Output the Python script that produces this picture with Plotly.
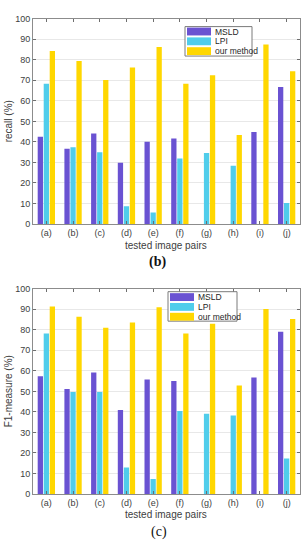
import plotly.graph_objects as go

categories = ["(a)", "(b)", "(c)", "(d)", "(e)", "(f)", "(g)", "(h)", "(i)", "(j)"]
series_names = ["MSLD", "LPI", "our method"]
colors = ["#6A52D2", "#50CDEB", "#FFD700"]

recall_msld = [42.5, 36.6, 44.1, 29.8, 40.0, 41.7, 0, 0, 44.8, 66.7]
recall_lpi = [68.3, 37.4, 35.0, 8.6, 5.6, 31.9, 34.6, 28.4, 0, 10.2]
recall_ours = [84.3, 79.4, 70.1, 76.3, 86.2, 68.3, 72.5, 43.4, 87.4, 74.4]

f1_msld = [57.4, 51.2, 59.2, 40.9, 55.8, 55.0, 0, 0, 56.8, 79.0]
f1_lpi = [78.2, 49.7, 49.7, 12.9, 7.3, 40.4, 39.1, 38.2, 0, 17.3]
f1_ours = [91.3, 86.4, 81.0, 83.5, 91.0, 78.2, 83.0, 52.9, 90.1, 85.3]

y_ticks = [0, 10, 20, 30, 40, 50, 60, 70, 80, 90, 100]

W, H = 306, 550
def py(px):
    return 1 - px / H
def pxx(px):
    return px / W

x_dom = [pxx(33), pxx(300)]
top_dom = [py(223), py(14)]
bot_dom = [py(498), py(289)]

xs = list(range(1, len(categories) + 1))

fig = go.Figure()
for vals, name, col in zip([recall_msld, recall_lpi, recall_ours], series_names, colors):
    fig.add_trace(go.Bar(x=xs, y=vals, name=name, marker=dict(color=col, line=dict(width=0)),
                         xaxis="x", yaxis="y", showlegend=False))
for vals, name, col in zip([f1_msld, f1_lpi, f1_ours], series_names, colors):
    fig.add_trace(go.Bar(x=xs, y=vals, name=name, marker=dict(color=col, line=dict(width=0)),
                         xaxis="x2", yaxis="y2", showlegend=False))

axis_common = dict(showline=True, linecolor="#8c8c8c", linewidth=1, mirror="ticks",
                   ticks="inside", ticklen=3, tickcolor="#6e6e6e",
                   tickfont=dict(family="Liberation Sans, Arial", size=9, color="#404040"),
                   zeroline=False)
xaxis_common = dict(axis_common, range=[0.5, 10.5], tickvals=xs, ticktext=categories,
                    showgrid=False, domain=x_dom)
yaxis_common = dict(axis_common, range=[0, 100], tickvals=y_ticks, showgrid=True,
                    gridcolor="#e8e8e8", gridwidth=1)

fig.update_layout(
    width=W, height=H,
    margin=dict(l=0, r=0, t=0, b=0),
    paper_bgcolor="white", plot_bgcolor="white",
    barmode="group", bargap=0.325, bargroupgap=0.12,
    showlegend=False,
    xaxis=dict(xaxis_common, anchor="y"),
    yaxis=dict(yaxis_common, domain=top_dom, anchor="x"),
    xaxis2=dict(xaxis_common, anchor="y2"),
    yaxis2=dict(yaxis_common, domain=bot_dom, anchor="x2"),
)

shapes = []
annotations = []

def add_legend(x0, y0, x1, y1, sw_x0, sw_x1, row_centers):
    shapes.append(dict(type="rect", xref="paper", yref="paper",
                       x0=pxx(x0), x1=pxx(x1), y0=py(y1), y1=py(y0),
                       line=dict(color="#7a7a7a", width=1), fillcolor="white", layer="above"))
    for name, col, cy in zip(series_names, colors, row_centers):
        shapes.append(dict(type="rect", xref="paper", yref="paper",
                           x0=pxx(sw_x0), x1=pxx(sw_x1), y0=py(cy + 4), y1=py(cy - 4),
                           line=dict(width=0), fillcolor=col, layer="above"))
        annotations.append(dict(xref="paper", yref="paper", x=pxx(sw_x1 + 2), y=py(cy),
                                text=name, showarrow=False, xanchor="left", yanchor="middle",
                                font=dict(family="Liberation Sans, Arial", size=8.5, color="#262626")))

add_legend(185, 22, 252, 52, 187, 211, [27, 37, 47])
add_legend(168, 292, 237, 322, 170, 194, [297.5, 307.5, 317.5])

title_font = dict(family="Liberation Sans, Arial", size=10, color="#404040")
annotations += [
    dict(xref="paper", yref="paper", x=pxx(166), y=py(245), text="tested image pairs",
         showarrow=False, xanchor="center", yanchor="middle", font=title_font),
    dict(xref="paper", yref="paper", x=pxx(166), y=py(519), text="tested image pairs",
         showarrow=False, xanchor="center", yanchor="middle", font=title_font),
    dict(xref="paper", yref="paper", x=pxx(8), y=py(118.5), text="recall (%)", textangle=-90,
         showarrow=False, xanchor="center", yanchor="middle", font=title_font),
    dict(xref="paper", yref="paper", x=pxx(8), y=py(393.5), text="F1-measure (%)", textangle=-90,
         showarrow=False, xanchor="center", yanchor="middle", font=title_font),
    dict(xref="paper", yref="paper", x=pxx(157), y=py(262), text="<b>(b)</b>",
         showarrow=False, xanchor="center", yanchor="middle",
         font=dict(family="Liberation Serif, Times New Roman", size=14, color="#111111")),
    dict(xref="paper", yref="paper", x=pxx(159), y=py(537), text="(c)",
         showarrow=False, xanchor="center", yanchor="middle",
         font=dict(family="Liberation Serif, Times New Roman", size=14, color="#111111")),
]

fig.update_layout(shapes=shapes, annotations=annotations)
fig.write_html("out.html", config={"displayModeBar": False},
               post_script="document.body.style.margin='0';document.body.style.overflow='hidden';")
